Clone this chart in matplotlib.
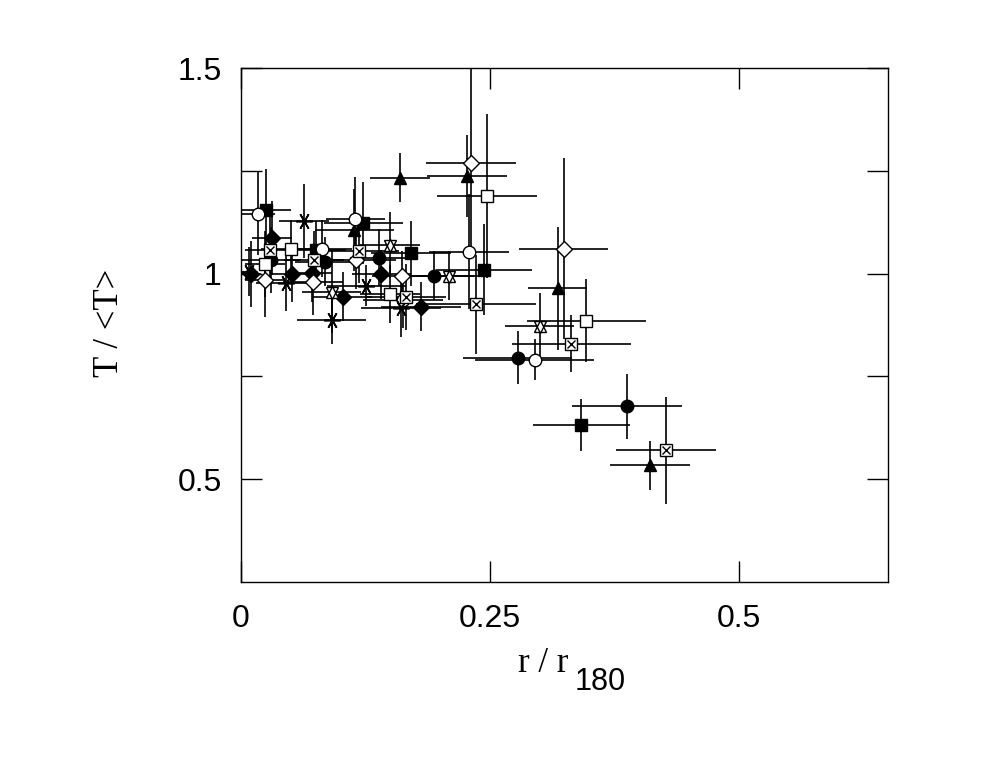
import matplotlib
matplotlib.use("Agg")
import matplotlib.pyplot as plt

# ---- data (x = r/r180, y = T/<T>, symmetric errors) ----
fcirc_x = [0.030, 0.084, 0.139, 0.194, 0.278, 0.388]
fcirc_y = [1.034, 1.029, 1.039, 0.995, 0.796, 0.677]
fcirc_xe = [0.030, 0.030, 0.030, 0.040, 0.055, 0.055]
fcirc_ye = [0.080, 0.060, 0.070, 0.060, 0.065, 0.080]

fdiam_x = [0.010, 0.031, 0.051, 0.071, 0.102, 0.141, 0.181]
fdiam_y = [1.000, 1.087, 1.000, 1.002, 0.944, 0.998, 0.920]
fdiam_xe = [0.010, 0.020, 0.020, 0.020, 0.030, 0.030, 0.040]
fdiam_ye = [0.080, 0.090, 0.070, 0.070, 0.060, 0.060, 0.060]

fsq_x = [0.025, 0.075, 0.123, 0.171, 0.244, 0.342]
fsq_y = [1.155, 1.058, 1.124, 1.049, 1.010, 0.631]
fsq_xe = [0.025, 0.030, 0.040, 0.040, 0.048, 0.049]
fsq_ye = [0.100, 0.070, 0.100, 0.080, 0.110, 0.063]

osq_x = [0.024, 0.050, 0.150, 0.247, 0.347]
osq_y = [1.024, 1.061, 0.951, 1.189, 0.886]
osq_xe = [0.020, 0.030, 0.030, 0.050, 0.060]
osq_ye = [0.080, 0.070, 0.070, 0.200, 0.100]

ftri_x = [0.114, 0.160, 0.227, 0.318, 0.411]
ftri_y = [1.107, 1.233, 1.238, 0.964, 0.534]
ftri_xe = [0.040, 0.030, 0.040, 0.030, 0.040]
ftri_ye = [0.100, 0.060, 0.100, 0.150, 0.060]

odiam_x = [0.024, 0.072, 0.116, 0.162, 0.231, 0.324]
odiam_y = [0.985, 0.980, 1.032, 0.995, 1.269, 1.061]
odiam_xe = [0.020, 0.030, 0.040, 0.030, 0.045, 0.045]
odiam_ye = [0.090, 0.080, 0.070, 0.060, 0.230, 0.220]

ocirc_x = [0.017, 0.081, 0.115, 0.163, 0.229, 0.295]
ocirc_y = [1.146, 1.061, 1.134, 0.937, 1.053, 0.791]
ocirc_xe = [0.017, 0.030, 0.030, 0.040, 0.040, 0.060]
ocirc_ye = [0.100, 0.070, 0.100, 0.070, 0.140, 0.050]

ast_x = [0.008, 0.045, 0.063, 0.091, 0.126, 0.161]
ast_y = [1.005, 0.978, 1.129, 0.888, 0.971, 0.916]
ast_xe = [0.008, 0.030, 0.025, 0.035, 0.040, 0.040]
ast_ye = [0.060, 0.070, 0.090, 0.060, 0.050, 0.070]

xsq_x = [0.029, 0.073, 0.119, 0.166, 0.236, 0.332, 0.427]
xsq_y = [1.058, 1.034, 1.056, 0.944, 0.925, 0.830, 0.570]
xsq_xe = [0.025, 0.030, 0.040, 0.040, 0.060, 0.060, 0.050]
xsq_ye = [0.080, 0.070, 0.080, 0.080, 0.120, 0.070, 0.130]

hex_x = [0.091, 0.150, 0.209, 0.300]
hex_y = [0.956, 1.070, 0.995, 0.873]
hex_xe = [0.030, 0.030, 0.030, 0.035]
hex_ye = [0.100, 0.080, 0.060, 0.080]

x_ticks = [0, 0.25, 0.5]
x_ticklabels = ["0", "0.25", "0.5"]
y_ticks = [0.5, 0.75, 1.0, 1.25, 1.5]
y_ticklabels = ["0.5", "", "1", "", "1.5"]

# ---- figure ----
fig = plt.figure(figsize=(9.85, 7.61), dpi=100)
ax = fig.add_axes([0.2447, 0.2352, 0.6568, 0.6754])

ebkw = dict(fmt="none", ecolor="black", elinewidth=1.2, capsize=0, zorder=2)
mkw = dict(linestyle="none", color="black", zorder=3)

def draw(xs, ys, xe, ye, **marker):
    ax.errorbar(xs, ys, xerr=xe, yerr=ye, **ebkw)
    ax.plot(xs, ys, **mkw, **marker)

draw(fcirc_x, fcirc_y, fcirc_xe, fcirc_ye, marker="o", markersize=9)
draw(fdiam_x, fdiam_y, fdiam_xe, fdiam_ye, marker="D", markersize=8)
draw(fsq_x, fsq_y, fsq_xe, fsq_ye, marker="s", markersize=8)
draw(osq_x, osq_y, osq_xe, osq_ye, marker="s", markersize=8,
     markerfacecolor="white", markeredgewidth=1.0)
draw(ftri_x, ftri_y, ftri_xe, ftri_ye, marker="^", markersize=9)
draw(odiam_x, odiam_y, odiam_xe, odiam_ye, marker="D", markersize=8,
     markerfacecolor="white", markeredgewidth=1.0)
draw(ocirc_x, ocirc_y, ocirc_xe, ocirc_ye, marker="o", markersize=9,
     markerfacecolor="white", markeredgewidth=1.0)
draw(ast_x, ast_y, ast_xe, ast_ye, marker=(6, 2, 90), markersize=12,
     markeredgewidth=1.2)
draw(xsq_x, xsq_y, xsq_xe, xsq_ye, marker="s", markersize=8,
     markerfacecolor="white", markeredgewidth=1.0)
ax.plot(xsq_x, xsq_y, linestyle="none", marker="x", markersize=6,
        color="black", markeredgewidth=1.0, zorder=4)
draw(hex_x, hex_y, hex_xe, hex_ye, marker="^", markersize=8,
     markerfacecolor="white", markeredgewidth=1.0)
ax.plot(hex_x, [v - 0.004 for v in hex_y], linestyle="none", marker="v",
        markersize=8, markerfacecolor="none", color="black",
        markeredgewidth=1.0, zorder=4)

ax.set_xlim(0, 0.65)
ax.set_ylim(0.25, 1.5)

ax.set_xticks(x_ticks)
ax.set_xticklabels(x_ticklabels)
ax.set_yticks(y_ticks)
ax.set_yticklabels(y_ticklabels)

ax.tick_params(direction="in", length=15, width=1.0, top=True, right=True,
               labelsize=23, pad=14)
ax.tick_params(axis="x", pad=16)
for lab in ax.get_xticklabels() + ax.get_yticklabels():
    lab.set_family("Liberation Sans")
for s in ax.spines.values():
    s.set_linewidth(1.0)

# axis labels drawn as text pieces to mimic the original typography
fig.text(543 / 985, 1 - 664 / 761, "r / r", fontsize=25,
         family="Liberation Serif", ha="center", va="center")
fig.text(600 / 985, 1 - 682 / 761, "180", fontsize=22,
         family="Liberation Sans", ha="center", va="center")
fig.text(110 / 985, 1 - 323 / 761, "T / <T>", fontsize=25,
         family="Liberation Serif", ha="center", va="center", rotation=90)

fig.savefig("out.png", dpi=100)
